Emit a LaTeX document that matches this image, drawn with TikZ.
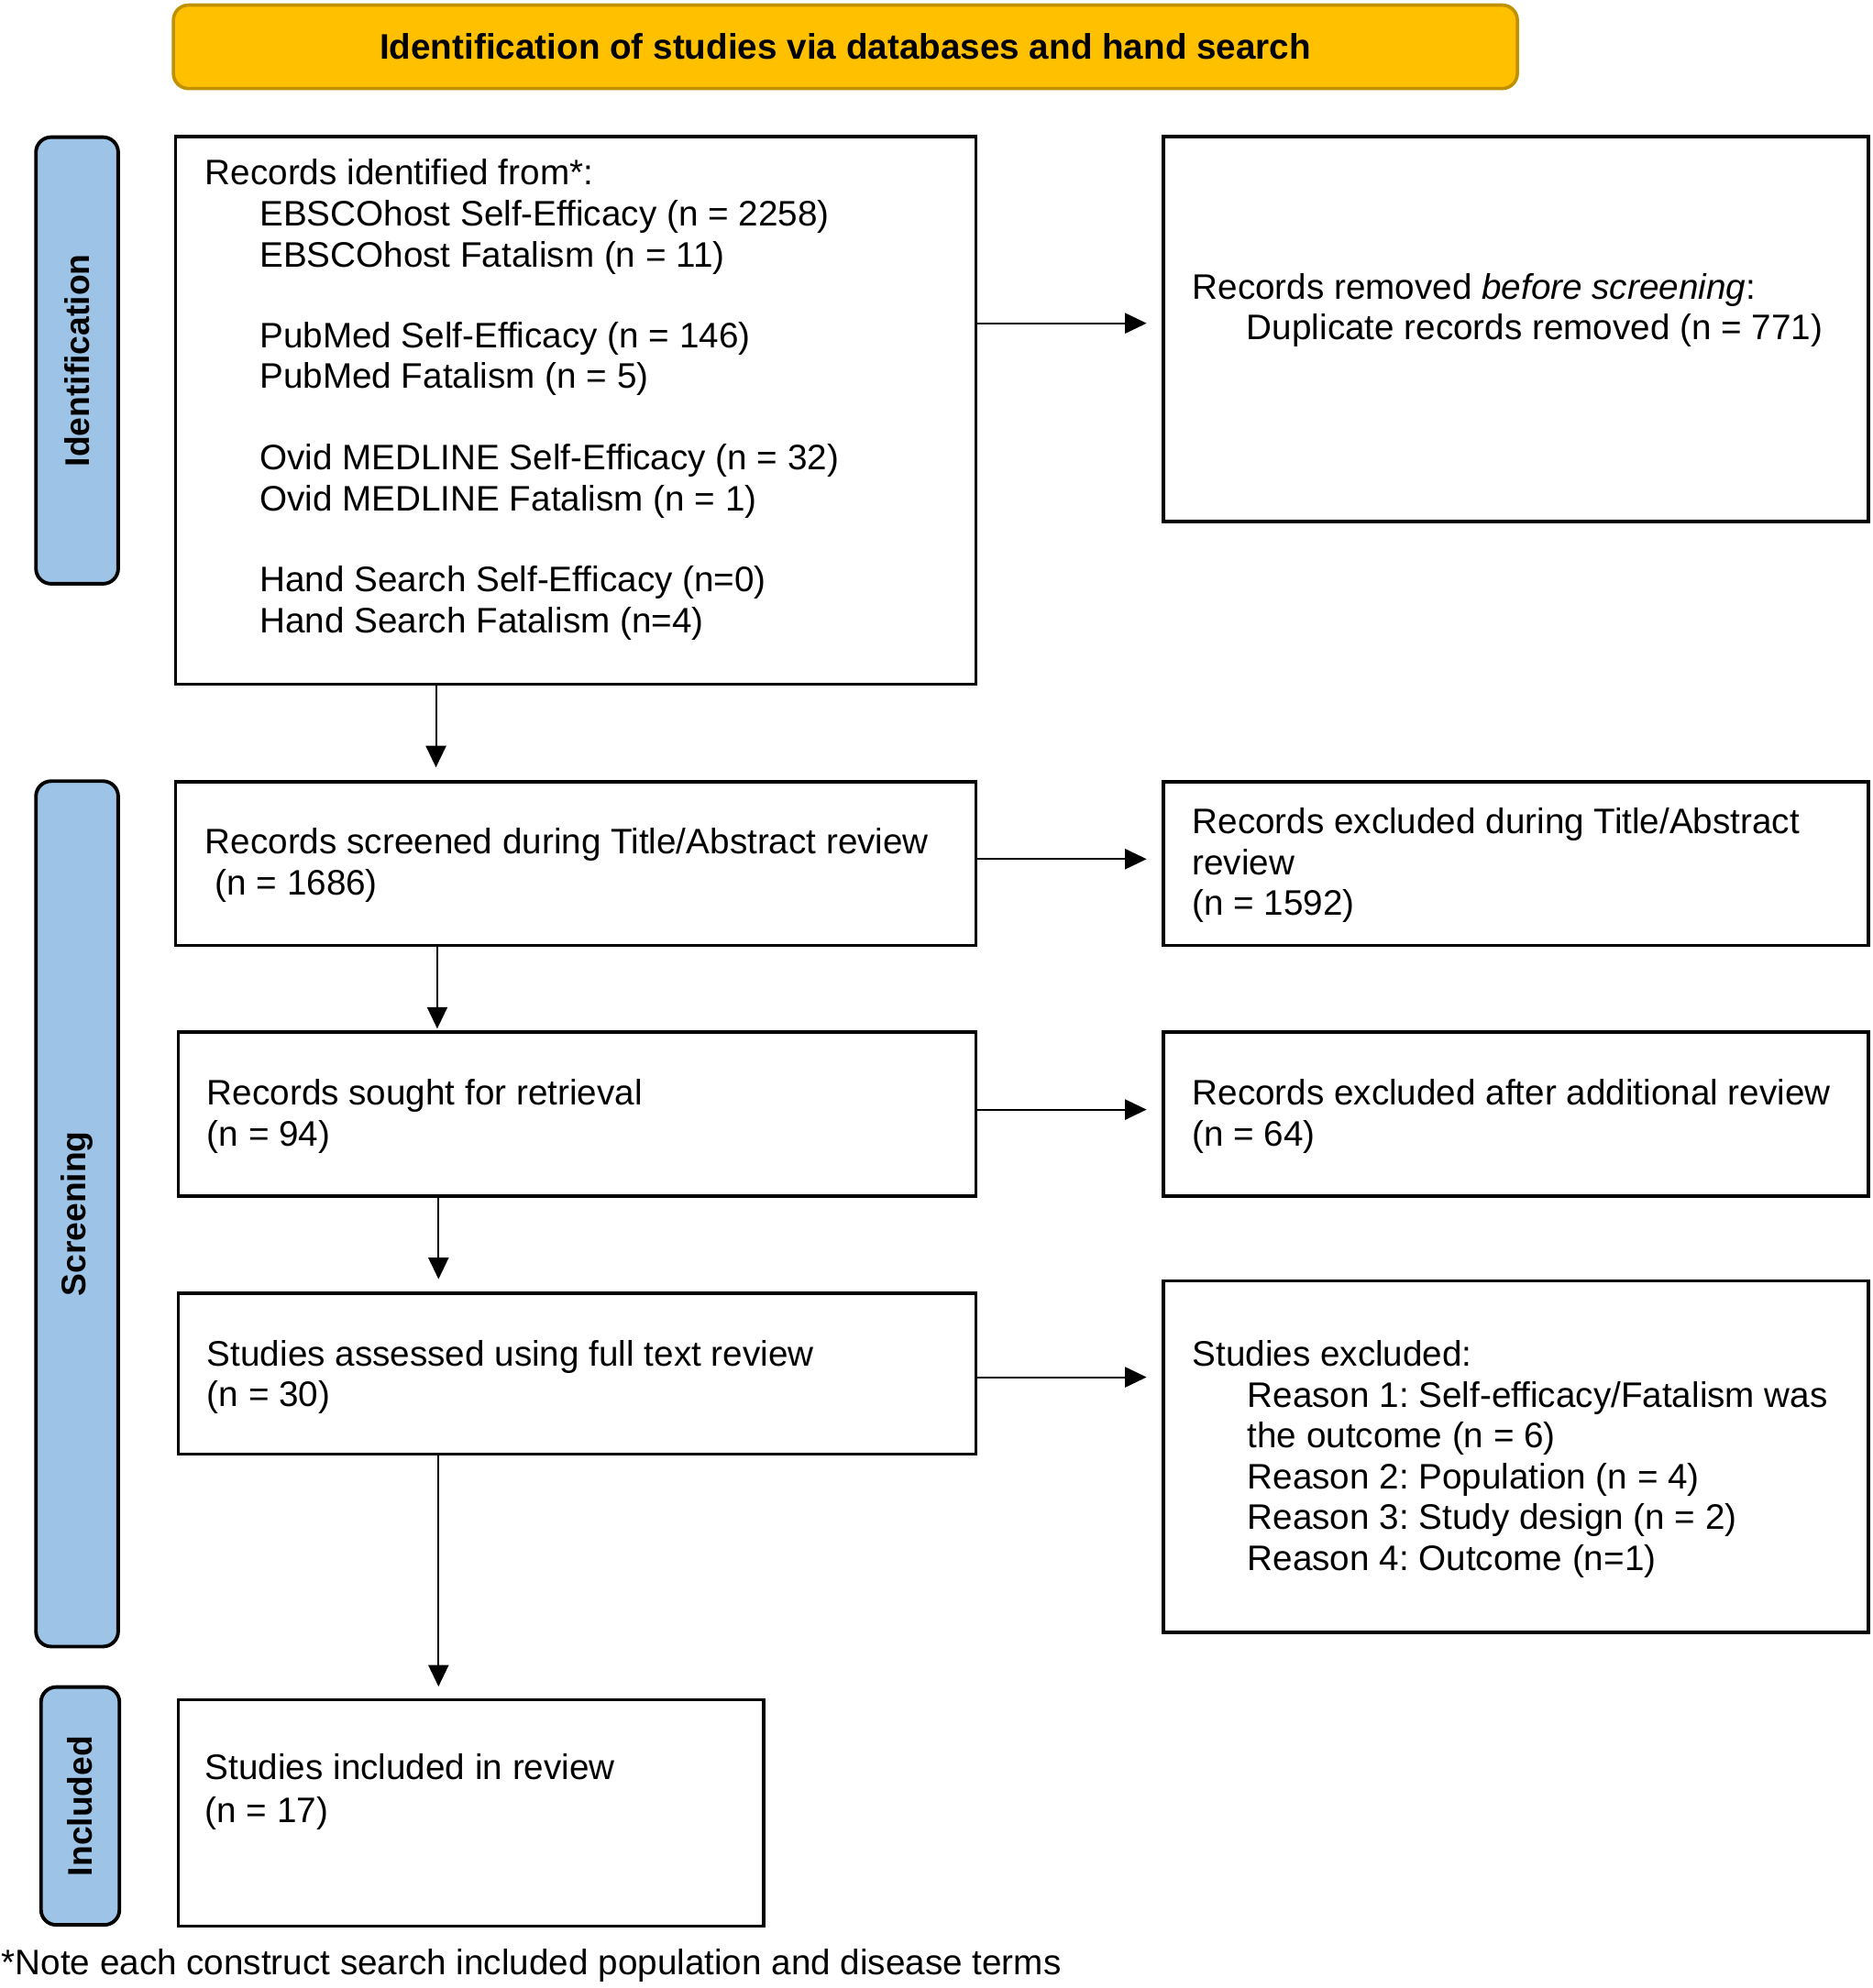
\documentclass[tikz,border=0pt]{standalone}
\usepackage{fontspec}
\setmainfont{Liberation Sans}
\usetikzlibrary{arrows.meta}
\frenchspacing
\definecolor{titlefill}{HTML}{FFC000}
\definecolor{titledraw}{HTML}{BF9000}
\definecolor{sideblue}{HTML}{9DC3E6}
\newcommand\myfs{\fontsize{28pt}{32.3pt}\selectfont}
\newcommand\mylabfs{\fontsize{27pt}{30pt}\selectfont\bfseries}
\begin{document}
\begin{tikzpicture}[x=1pt,y=-1pt,
  box/.style={draw=black, line width=2.6pt, rectangle, inner sep=0pt, anchor=north west},
  sidelab/.style={draw=black, line width=2.8pt, fill=sideblue, rounded corners=12pt, inner sep=0pt, anchor=north west},
  sidetxt/.style={rotate=90, inner sep=0pt, font=\mylabfs},
  txt/.style={anchor=base west, inner sep=0pt, font=\myfs},
  arr/.style={line width=1.4pt, -{Triangle[length=17pt,width=16pt]}},
  titlebox/.style={draw=titledraw, fill=titlefill, line width=2.6pt, rounded corners=12pt, inner sep=0pt,
    font=\fontsize{28pt}{32pt}\selectfont\bfseries}
]
\useasboundingbox (0,0) rectangle (1480,1571.3);

% title
\node[titlebox, minimum width=1062pt, minimum height=66pt] (title) at (668,37)
  {Identification of studies via databases and hand search};

% side labels
\node[sidelab, minimum width=65pt, minimum height=353pt] (lab1) at (27,107) {};
\node[sidetxt] (lab1t) at (lab1.center) {Identification};
\node[sidelab, minimum width=65pt, minimum height=684pt] (lab2) at (27,616) {};
\node[sidetxt] (lab2t) at (lab2.center) {Screening};
\node[sidelab, minimum width=62pt, minimum height=188pt] (lab3) at (31,1332) {};
\node[sidetxt] (lab3t) at (lab3.center) {Included};

% boxes
\node[box, minimum width=632.5pt, minimum height=433pt] (b1) at (137.5,106.5) {};
\node[box, minimum width=632.5pt, minimum height=129.5pt] (b2) at (137.5,616.5) {};
\node[box, minimum width=630.5pt, minimum height=129.5pt] (b3) at (139.5,814.5) {};
\node[box, minimum width=630.5pt, minimum height=127pt] (b4) at (139.5,1021) {};
\node[box, minimum width=462.5pt, minimum height=179pt] (b5) at (139.5,1342) {};
\node[box, minimum width=557pt, minimum height=304.5pt] (r1) at (918,106.5) {};
\node[box, minimum width=557pt, minimum height=129.5pt] (r2) at (918,616.5) {};
\node[box, minimum width=557pt, minimum height=129.5pt] (r3) at (918,814.5) {};
\node[box, minimum width=557pt, minimum height=278pt] (r4) at (918,1011) {};

% texts box 1
\node[txt] (t1a) at (162,146) {Records identified from*:};
\node[txt] (t1b) at (205,178.5) {EBSCOhost Self-Efficacy (n = 2258)};
\node[txt] (t1c) at (205,211) {EBSCOhost Fatalism (n = 11)};
\node[txt] (t1d) at (205,275) {PubMed Self-Efficacy (n = 146)};
\node[txt] (t1e) at (205,307) {PubMed Fatalism (n = 5)};
\node[txt] (t1f) at (205,371.5) {Ovid MEDLINE Self-Efficacy (n = 32)};
\node[txt] (t1g) at (205,404) {Ovid MEDLINE Fatalism (n = 1)};
\node[txt] (t1h) at (205,467.5) {Hand Search Self-Efficacy (n=0)};
\node[txt] (t1i) at (205,500) {Hand Search Fatalism (n=4)};

% right 1
\node[txt] (s1a) at (942,236.6) {Records removed \textit{before screening}:};
\node[txt] (s1b) at (985,268.5) {Duplicate records removed (n = 771)};

% box 2 / right 2
\node[txt] (t2a) at (162,675) {Records screened during Title/Abstract review};
\node[txt] (t2b) at (162,707.5) {\ (n = 1686)};
\node[txt] (s2a) at (942,659) {Records excluded during Title/Abstract};
\node[txt] (s2b) at (942,691.3) {review};
\node[txt] (s2c) at (942,723.2) {(n = 1592)};

% box 3 / right 3
\node[txt] (t3a) at (163.5,873.4) {Records sought for retrieval};
\node[txt] (t3b) at (163.5,906) {(n = 94)};
\node[txt] (s3a) at (942,873.4) {Records excluded after additional review};
\node[txt] (s3b) at (942,906) {(n = 64)};

% box 4 / right 4
\node[txt] (t4a) at (163.5,1079.4) {Studies assessed using full text review};
\node[txt] (t4b) at (163.5,1111.8) {(n = 30)};
\node[txt] (s4a) at (942,1079.4) {Studies excluded:};
\node[txt] (s4b) at (985.5,1112) {Reason 1: Self-efficacy/Fatalism was};
\node[txt] (s4c) at (985.5,1144.1) {the outcome (n = 6)};
\node[txt] (s4d) at (985.5,1176.5) {Reason 2: Population (n = 4)};
\node[txt] (s4e) at (985.5,1208.6) {Reason 3: Study design (n = 2)};
\node[txt] (s4f) at (985.5,1241.2) {Reason 4: Outcome (n=1)};

% box 5
\node[txt] (t5a) at (162,1406.5) {Studies included in review};
\node[txt] (t5b) at (162,1440.7) {(n = 17)};

% footnote
\node[txt] (note) at (1,1561) {*Note each construct search included population and disease terms};

% connector levels
\coordinate (h1) at (0,255.5);
\coordinate (h2) at (0,679);
\coordinate (h3) at (0,877);
\coordinate (h4) at (0,1088.5);
\coordinate (v1) at (344.5,0);
\coordinate (v2) at (345.5,0);
\coordinate (v3) at (346.5,0);

% horizontal arrows
\draw[arr, shorten >=12pt] (b1.east |- h1) -- (r1.west |- h1);
\draw[arr, shorten >=12pt] (b2.east |- h2) -- (r2.west |- h2);
\draw[arr, shorten >=12pt] (b3.east |- h3) -- (r3.west |- h3);
\draw[arr, shorten >=12pt] (b4.east |- h4) -- (r4.west |- h4);

% vertical arrows
\draw[arr, shorten >=10pt] (b1.south -| v1) -- (b2.north -| v1);
\draw[arr, shorten >=1.5pt] (b2.south -| v2) -- (b3.north -| v2);
\draw[arr, shorten >=10pt] (b3.south -| v3) -- (b4.north -| v3);
\draw[arr, shorten >=9pt] (b4.south -| v3) -- (b5.north -| v3);
\end{tikzpicture}
\end{document}
